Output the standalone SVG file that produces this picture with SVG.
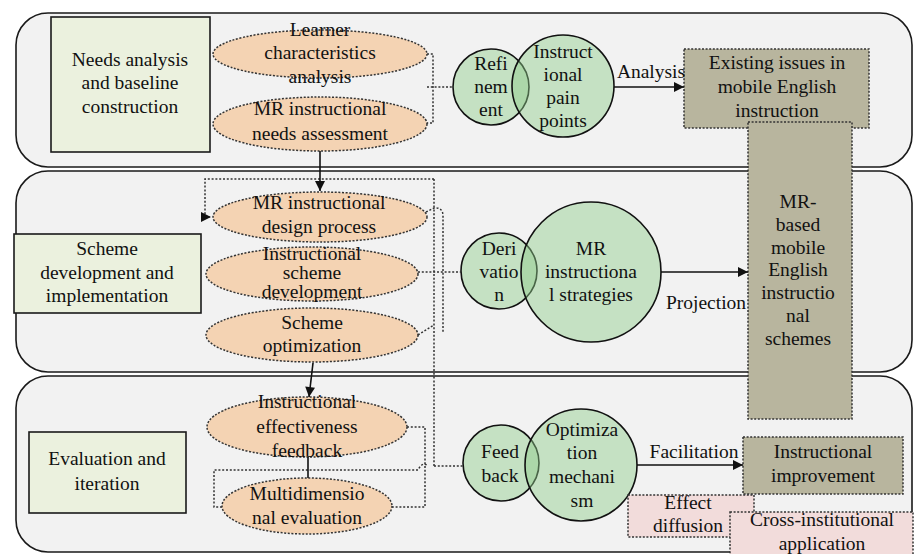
<svg xmlns="http://www.w3.org/2000/svg" width="914" height="554" viewBox="0 0 914 554">
<defs>
<style>
.panel{fill:#f2f2f2;stroke:#1a1a1a;stroke-width:1.6}
.lbl{fill:#ebf1de;stroke:#1a1a1a;stroke-width:1.6}
.ell{fill:#f4d3b3;stroke:#333;stroke-width:1.5;stroke-dasharray:2 1.6}
.cir{fill:#8fcc8a;fill-opacity:0.45;stroke:#111;stroke-width:1.6}
.olive{fill:#b8b59e;stroke:#333;stroke-width:1.5;stroke-dasharray:2 1.6}
.pink{fill:#f2dcdb;stroke:#333;stroke-width:1.5;stroke-dasharray:2 1.6}
.dot{fill:none;stroke:#333;stroke-width:1.5;stroke-dasharray:2 1.8}
.sol{fill:none;stroke:#111;stroke-width:1.6}
.tx{font-size:19.5px;fill:#111;text-anchor:middle}
</style>
<marker id="ah" viewBox="0 0 10 10" refX="10" refY="5" markerWidth="11" markerHeight="10" markerUnits="userSpaceOnUse" orient="auto"><path d="M0,0 L10,5 L0,10 z" fill="#111"/></marker>
</defs>

<g id="panels">
<rect class="panel" x="16" y="13" width="896" height="154" rx="32"/>
<rect class="panel" x="16" y="171" width="896" height="201" rx="32"/>
<rect class="panel" x="16" y="376" width="896" height="176" rx="32"/>
</g>

<g class="tx" font-family="Liberation Serif, Times New Roman, DejaVu Serif, serif">
<g id="label1"><rect class="lbl" x="51" y="17" width="159" height="135"/>
<text x="130" y="66">Needs analysis</text><text x="130" y="89">and baseline</text><text x="130" y="113">construction</text></g>
<g id="label2"><rect class="lbl" x="14" y="234" width="187" height="79"/>
<text x="107" y="255">Scheme</text><text x="107" y="279">development and</text><text x="107" y="302">implementation</text></g>
<g id="label3"><rect class="lbl" x="29" y="432" width="157" height="81"/>
<text x="107" y="465">Evaluation and</text><text x="107" y="490">iteration</text></g>

<g id="e-learner"><ellipse class="ell" cx="320" cy="54" rx="107" ry="24"/>
<text x="320" y="36">Learner</text><text x="320" y="59">characteristics</text><text x="320" y="83">analysis</text></g>
<g id="e-needs"><ellipse class="ell" cx="320" cy="124" rx="107" ry="27"/>
<text x="320" y="115">MR instructional</text><text x="320" y="140">needs assessment</text></g>

<g id="e-design"><ellipse class="ell" cx="320" cy="217" rx="107" ry="25"/>
<text x="319" y="209">MR instructional</text><text x="319" y="233">design process</text></g>
<g id="e-scheme"><ellipse class="ell" cx="312" cy="274" rx="106" ry="27"/>
<text x="312" y="260">Instructional</text><text x="312" y="279">scheme</text><text x="312" y="298">development</text></g>
<g id="e-opt"><ellipse class="ell" cx="312" cy="335" rx="106" ry="27"/>
<text x="312" y="329">Scheme</text><text x="312" y="352">optimization</text></g>

<g id="e-feedback"><ellipse class="ell" cx="307" cy="427" rx="100" ry="30"/>
<text x="307" y="408">Instructional</text><text x="307" y="433">effectiveness</text><text x="307" y="457">feedback</text></g>
<g id="e-multi"><ellipse class="ell" cx="307" cy="506" rx="85" ry="28"/>
<text x="307" y="500">Multidimensio</text><text x="307" y="524">nal evaluation</text></g>

<g id="c-refinement"><circle class="cir" cx="491" cy="87" r="38"/>
<text x="491" y="70">Refi</text><text x="491" y="93">nem</text><text x="491" y="116">ent</text></g>
<g id="c-pain"><circle class="cir" cx="563" cy="86" r="51"/>
<text x="563" y="58">Instruct</text><text x="563" y="81">ional</text><text x="563" y="104">pain</text><text x="563" y="127">points</text></g>

<g id="c-derivation"><circle class="cir" cx="499" cy="271" r="38"/>
<text x="499" y="255">Deri</text><text x="499" y="278">vatio</text><text x="499" y="301">n</text></g>
<g id="c-strategies"><circle class="cir" cx="591" cy="272" r="70"/>
<text x="591" y="255">MR</text><text x="591" y="278">instructiona</text><text x="591" y="301">l strategies</text></g>

<g id="c-feed"><circle class="cir" cx="501" cy="463" r="38"/>
<text x="500" y="458">Feed</text><text x="500" y="482">back</text></g>
<g id="c-optim"><circle class="cir" cx="581" cy="465" r="56"/>
<text x="582" y="436">Optimiza</text><text x="582" y="459">tion</text><text x="582" y="483">mechani</text><text x="582" y="507">sm</text></g>

<g id="b-existing"><rect class="olive" x="684" y="49" width="185" height="79"/>
<text x="777" y="69">Existing issues in</text><text x="777" y="93">mobile English</text><text x="777" y="117">instruction</text></g>
<g id="b-schemes"><rect class="olive" x="748" y="122" width="104" height="297"/>
<text x="798" y="208">MR-</text><text x="798" y="231">based</text><text x="798" y="254">mobile</text><text x="798" y="276">English</text><text x="798" y="299">instructio</text><text x="798" y="322">nal</text><text x="798" y="345">schemes</text></g>
<g id="b-improvement"><rect class="olive" x="743" y="437" width="160" height="57"/>
<text x="823" y="458">Instructional</text><text x="823" y="482">improvement</text></g>
<g id="b-effect"><rect class="pink" x="628" y="495" width="126" height="42"/>
<text x="688" y="509">Effect</text><text x="688" y="532">diffusion</text></g>
<g id="b-cross"><rect class="pink" x="730" y="512" width="183" height="50"/>
<text x="822" y="526">Cross-institutional</text><text x="822" y="550">application</text></g>

<g id="connectors">
<path class="dot" d="M427,54 L433,54 L433,123 L427,123"/>
<path class="dot" d="M427,87 L453,87"/>
<path class="dot" d="M434,179 L205,179 L205,217 L211,217" marker-end="url(#ah)"/>
<path class="dot" d="M434,179 L434,466"/>
<path class="dot" d="M426,212 L434,208 Q443,207 443,216 L443,333"/>
<path class="dot" d="M418,335 L434,325"/>
<path class="dot" d="M418,272 L461,272"/>
<path class="dot" d="M407,427 L425,427 L425,507 L392,507"/>
<path class="dot" d="M222,507 L214,507 L214,470 L418,470 Q422,462 427,465"/>
<path class="dot" d="M434,466 L463,466"/>
<path class="sol" d="M320,151 L320,191" marker-end="url(#ah)"/>
<path class="sol" d="M313,363 L309,397" marker-end="url(#ah)"/>
<path class="sol" d="M308,457 L308,478"/>
<path class="sol" d="M614,87 L684,87" marker-end="url(#ah)"/>
<path class="sol" d="M661,272 L748,272" marker-end="url(#ah)"/>
<path class="sol" d="M637,465 L743,465" marker-end="url(#ah)"/>
<text x="651" y="78">Analysis</text>
<text x="706" y="309">Projection</text>
<text x="694" y="458">Facilitation</text>
</g>
</g>
</svg>
